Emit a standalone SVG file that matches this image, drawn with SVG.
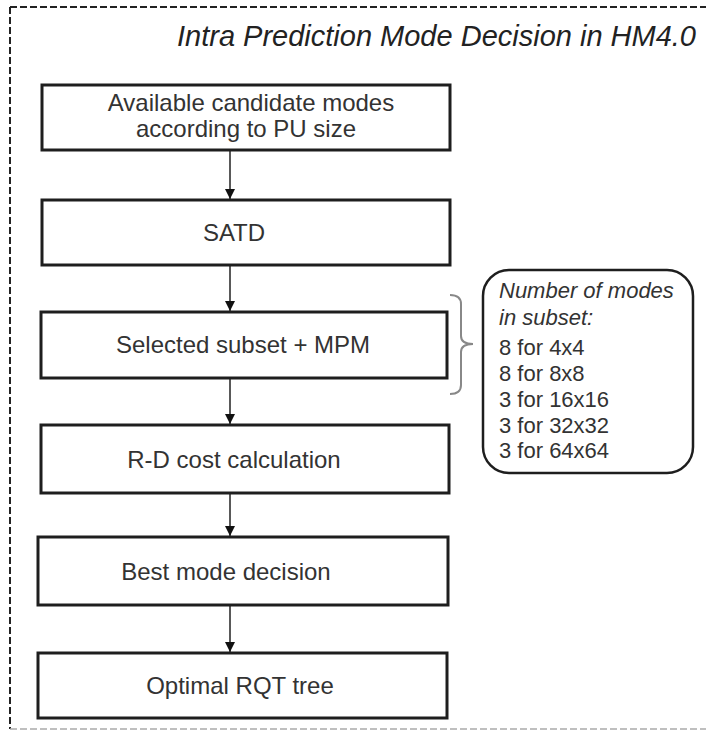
<svg xmlns="http://www.w3.org/2000/svg" width="706" height="731" viewBox="0 0 706 731">
<defs>
<style>
.box{fill:#fff;stroke:#1e1e1e;stroke-width:3}
.lbl{font-family:"Liberation Sans",Arial,sans-serif;font-size:24px;fill:#333;text-anchor:middle}
.note{font-family:"Liberation Sans",Arial,sans-serif;font-size:22px;fill:#333}
.conn{stroke:#222;stroke-width:1.5;fill:none}
</style>
<marker id="ah" viewBox="0 0 10 10" refX="10" refY="5" markerWidth="10" markerHeight="10" markerUnits="userSpaceOnUse" orient="auto">
<path d="M0,0 L10,5 L0,10 z" fill="#111"/>
</marker>
</defs>
<rect width="706" height="731" fill="#fff"/>
<g id="frame">
<path d="M10,7 H706" stroke="#222" stroke-width="2" stroke-dasharray="7,3" fill="none"/>
<path d="M10,7 V729" stroke="#222" stroke-width="2" stroke-dasharray="7,3" fill="none"/>
<path d="M10,729 H706" stroke="#aaa" stroke-width="1.5" stroke-dasharray="7,3" fill="none"/>
</g>
<text x="696" y="46" text-anchor="end" font-family="'Liberation Sans',Arial,sans-serif" font-size="29" font-style="italic" fill="#222">Intra Prediction Mode Decision in HM4.0</text>
<g id="connectors">
<line class="conn" x1="230" y1="150" x2="230" y2="199" marker-end="url(#ah)"/>
<line class="conn" x1="230" y1="265" x2="230" y2="311" stroke="#777" marker-end="url(#ah)"/>
<line class="conn" x1="230" y1="378" x2="230" y2="424" stroke="#777" marker-end="url(#ah)"/>
<line class="conn" x1="230" y1="493" x2="230" y2="536" marker-end="url(#ah)"/>
<line class="conn" x1="230" y1="605" x2="230" y2="652" marker-end="url(#ah)"/>
<path d="M450,295 Q461,295 461,304 V336 Q461,344 473,344 Q461,344 461,352 V385 Q461,394 450,394" stroke="#888" stroke-width="2" fill="none"/>
</g>
<g id="n1">
<rect class="box" x="42" y="85" width="408" height="65"/>
<text class="lbl" x="251" y="111">Available candidate modes</text>
<text class="lbl" x="246" y="137">according to PU size</text>
</g>
<g id="n2">
<rect class="box" x="42" y="200" width="408" height="65"/>
<text class="lbl" x="234" y="241">SATD</text>
</g>
<g id="n3">
<rect class="box" x="41" y="312" width="406" height="66"/>
<text class="lbl" x="243" y="353">Selected subset + MPM</text>
</g>
<g id="n4">
<rect class="box" x="41" y="425" width="408" height="68"/>
<text class="lbl" x="234" y="468">R-D cost calculation</text>
</g>
<g id="n5">
<rect class="box" x="38" y="537" width="410" height="68"/>
<text class="lbl" x="226" y="580">Best mode decision</text>
</g>
<g id="n6">
<rect class="box" x="38" y="653" width="409" height="65"/>
<text class="lbl" x="240" y="694">Optimal RQT tree</text>
</g>
<g id="note">
<rect x="483" y="270" width="210" height="203" rx="26" ry="26" fill="#fff" stroke="#1e1e1e" stroke-width="2.5"/>
<text class="note" x="499" y="298" font-style="italic">Number of modes</text>
<text class="note" x="499" y="325" font-style="italic">in subset:</text>
<text class="note" x="499" y="355">8 for 4x4</text>
<text class="note" x="499" y="381">8 for 8x8</text>
<text class="note" x="499" y="407">3 for 16x16</text>
<text class="note" x="499" y="433">3 for 32x32</text>
<text class="note" x="499" y="458">3 for 64x64</text>
</g>
</svg>
